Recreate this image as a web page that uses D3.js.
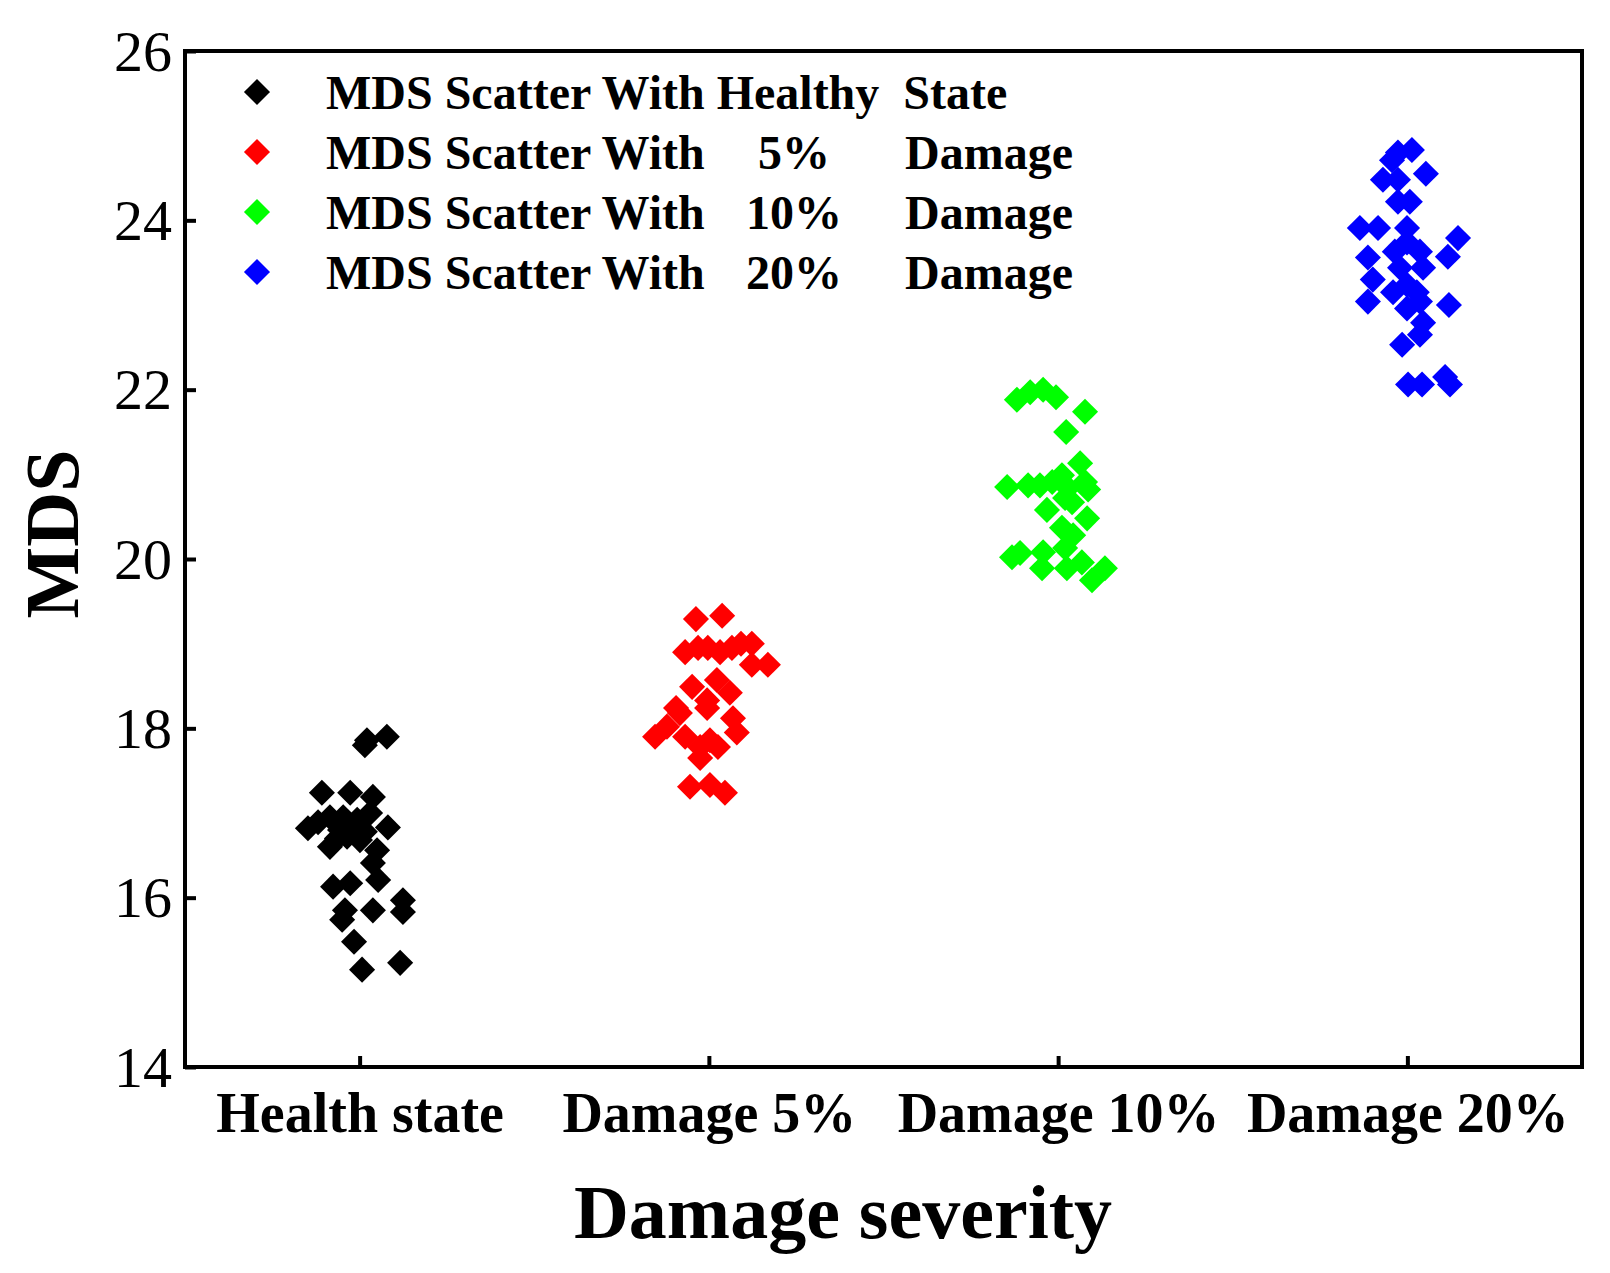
<!DOCTYPE html>
<html>
<head>
<meta charset="utf-8">
<script src="https://cdn.jsdelivr.net/npm/d3@7"></script>
<style>
  body { margin: 0; background: #fff; }
  svg { display: block; }
</style>
</head>
<body>
<div id="chart"></div>
<script>
// categories on the x axis
const categories = ["Health state", "Damage 5%", "Damage 10%", "Damage 20%"];
const yTicks = [14, 16, 18, 20, 22, 24, 26];

// x = category index (1..4) plus the small horizontal jitter seen in the plot
const healthX = [1.021, 1.078, 1.015, 0.892, 0.973, 1.038, 0.852, 0.881, 0.915, 0.953, 0.993, 1.030, 1.081, 0.915, 0.964, 1.001, 1.050, 0.944, 0.978, 1.038, 1.053, 0.924, 0.973, 0.958, 0.950, 1.038, 1.124, 1.124, 0.984, 1.116, 1.007, 0.935, 1.015];
const healthY = [17.86, 17.90, 17.80, 17.24, 17.24, 17.19, 16.82, 16.89, 16.95, 16.95, 16.92, 17.00, 16.83, 16.60, 16.72, 16.68, 16.56, 16.80, 16.85, 16.41, 16.21, 16.13, 16.17, 15.85, 15.74, 15.85, 15.97, 15.83, 15.48, 15.23, 15.15, 16.70, 16.78];

const dmg5X = [1.963, 2.038, 1.932, 1.969, 1.997, 2.032, 2.066, 2.092, 2.123, 2.123, 2.169, 1.952, 2.023, 2.060, 1.995, 1.906, 1.995, 1.917, 1.880, 1.846, 1.932, 1.975, 2.003, 2.026, 2.069, 2.080, 1.975, 1.946, 2.003, 2.046];
const dmg5Y = [19.29, 19.33, 18.90, 18.95, 18.95, 18.90, 18.95, 19.00, 19.00, 18.75, 18.75, 18.49, 18.57, 18.42, 18.33, 18.24, 18.24, 18.18, 18.02, 17.90, 17.90, 17.78, 17.86, 17.78, 18.12, 17.95, 17.65, 17.31, 17.33, 17.24];

const dmg10X = [2.882, 2.920, 2.957, 2.994, 3.077, 3.023, 2.854, 2.914, 2.948, 2.983, 3.011, 3.063, 3.077, 3.086, 3.028, 3.020, 2.968, 3.040, 3.083, 3.011, 3.043, 2.868, 2.891, 2.957, 3.020, 2.954, 3.025, 3.068, 3.097, 3.134];
const dmg10Y = [21.88, 21.97, 22.00, 21.91, 21.74, 21.50, 20.85, 20.87, 20.87, 20.91, 20.99, 21.13, 20.91, 20.82, 20.84, 20.72, 20.58, 20.67, 20.48, 20.37, 20.28, 20.02, 20.07, 20.08, 20.13, 19.89, 19.89, 19.96, 19.75, 19.89];

const dmg20X = [3.956, 3.973, 4.013, 4.053, 3.930, 3.973, 3.973, 4.007, 3.864, 3.916, 3.999, 4.145, 4.116, 3.887, 3.901, 3.887, 3.964, 4.036, 3.999, 3.979, 4.045, 3.999, 3.959, 4.027, 3.999, 4.036, 4.119, 4.045, 3.985, 4.036, 4.002, 4.042, 4.108, 4.122];
const dmg20Y = [24.71, 24.80, 24.83, 24.55, 24.48, 24.48, 24.22, 24.22, 23.91, 23.91, 23.91, 23.79, 23.57, 23.56, 23.30, 23.04, 23.63, 23.63, 23.74, 23.44, 23.44, 23.24, 23.15, 23.15, 22.96, 23.04, 23.00, 22.79, 22.53, 22.65, 22.06, 22.06, 22.15, 22.06];

const seriesNames = ["Healthy  State", "5%", "10%", "20%"];
const seriesColors = ["#000000", "#ff0000", "#00ff00", "#0000ff"];
const seriesX = [healthX, dmg5X, dmg10X, dmg20X];
const seriesY = [healthY, dmg5Y, dmg10Y, dmg20Y];

// layout
const W = 1610, H = 1273;
const L = 185, R = 1582, T = 51, B = 1067;
const font = "'Liberation Serif', 'Times New Roman', serif";

const svg = d3.select("#chart").append("svg")
  .attr("width", W)
  .attr("height", H)
  .style("font-family", font);

const x = d3.scaleLinear().domain([0.5, 4.5]).range([L, R]);
const y = d3.scaleLinear().domain([14, 26]).range([B, T]);

const diamond = d3.symbol().type(d3.symbolSquare).size(340);

// points
seriesX.forEach((xs, i) => {
  svg.append("g")
    .attr("fill", seriesColors[i])
    .selectAll("path")
    .data(xs.map((v, j) => [v, seriesY[i][j]]))
    .join("path")
    .attr("d", diamond)
    .attr("transform", d => `translate(${x(d[0])},${y(d[1])}) rotate(45)`);
});

// x axis (ticks inward)
const xAxis = svg.append("g")
  .attr("transform", `translate(0,${B})`)
  .call(d3.axisBottom(x).tickValues([1, 2, 3, 4]).tickFormat(d => categories[d - 1]).tickSize(-11).tickSizeOuter(0));
xAxis.select(".domain").remove();
xAxis.selectAll("line").attr("stroke", "#000").attr("stroke-width", 4);
xAxis.selectAll("text")
  .attr("y", 65)
  .attr("dy", 0)
  .attr("fill", "#000")
  .style("font-family", font)
  .style("font-size", "56px")
  .style("font-weight", "bold");

// y axis (ticks inward)
const yAxis = svg.append("g")
  .attr("transform", `translate(${L},0)`)
  .call(d3.axisLeft(y).tickValues(yTicks).tickSize(-11).tickSizeOuter(0));
yAxis.select(".domain").remove();
yAxis.selectAll("line").attr("stroke", "#000").attr("stroke-width", 4);
yAxis.selectAll("text")
  .attr("x", -13)
  .attr("dy", 19)
  .attr("fill", "#000")
  .style("font-family", font)
  .style("font-size", "58px");

// frame
svg.append("rect")
  .attr("x", L).attr("y", T)
  .attr("width", R - L).attr("height", B - T)
  .attr("fill", "none")
  .attr("stroke", "#000")
  .attr("stroke-width", 4);

// axis titles
svg.append("text")
  .attr("x", 843).attr("y", 1238)
  .attr("text-anchor", "middle")
  .style("font-size", "76px")
  .style("font-weight", "bold")
  .text("Damage severity");

svg.append("text")
  .attr("transform", "translate(78,534) rotate(-90)")
  .attr("text-anchor", "middle")
  .style("font-size", "76px")
  .style("font-weight", "bold")
  .text("MDS");

// legend
const legend = svg.append("g").style("font-size", "48px").style("font-weight", "bold");
seriesNames.forEach((name, i) => {
  const row = legend.append("g").attr("transform", `translate(0,${i * 60})`);
  row.append("path")
    .attr("d", diamond)
    .attr("transform", "translate(257,92) rotate(45)")
    .attr("fill", seriesColors[i]);
  if (i === 0) {
    row.append("text")
      .attr("x", 326).attr("y", 109)
      .attr("xml:space", "preserve")
      .style("white-space", "pre")
      .text("MDS Scatter With " + name);
  } else {
    row.append("text").attr("x", 326).attr("y", 109).text("MDS Scatter With");
    row.append("text").attr("x", 794).attr("y", 109).attr("text-anchor", "middle").text(name);
    row.append("text").attr("x", 905).attr("y", 109).text("Damage");
  }
});
</script>
</body>
</html>
